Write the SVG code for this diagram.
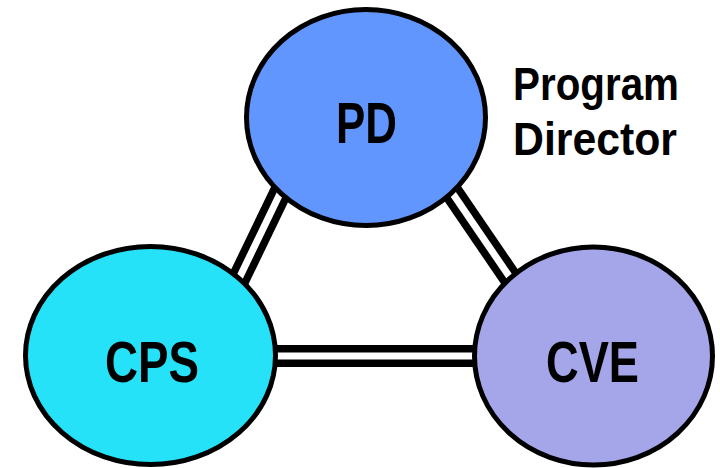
<svg xmlns="http://www.w3.org/2000/svg" width="720" height="468" viewBox="0 0 720 468">
<style>
.node{stroke:#000;stroke-width:5}
.lbl{font-family:"Liberation Sans",Arial,sans-serif;font-weight:bold;font-size:58px;text-anchor:middle;fill:#000}
.side{font-family:"Liberation Sans",Arial,sans-serif;font-weight:bold;font-size:47px;fill:#000}
.outer{stroke:#000;stroke-width:22;fill:none}
.inner{stroke:#fff;stroke-width:7;fill:none}
</style>
<rect width="720" height="468" fill="#fff"/>
<g id="connectors">
<line class="outer" x1="301" y1="150" x2="219" y2="320"/>
<line class="inner" x1="301" y1="150" x2="219" y2="320"/>
<line class="outer" x1="423" y1="150" x2="539" y2="320"/>
<line class="inner" x1="423" y1="150" x2="539" y2="320"/>
<line class="outer" x1="240" y1="356" x2="510" y2="356"/>
<line class="inner" x1="240" y1="356" x2="510" y2="356"/>
</g>
<g id="PD">
<ellipse class="node" cx="366" cy="117.5" rx="119.5" ry="108" fill="#6296FF"/>
<text class="lbl" x="366.5" y="143" textLength="61" lengthAdjust="spacingAndGlyphs">PD</text>
</g>
<g id="CPS">
<ellipse class="node" cx="150.5" cy="355.5" rx="125" ry="109" fill="#25E2F9"/>
<text class="lbl" x="152" y="382" textLength="94" lengthAdjust="spacingAndGlyphs">CPS</text>
</g>
<g id="CVE">
<ellipse class="node" cx="593.5" cy="356" rx="119" ry="109" fill="#A5A5E9"/>
<text class="lbl" x="592.5" y="382" textLength="93" lengthAdjust="spacingAndGlyphs">CVE</text>
</g>
<g id="label">
<text class="side" x="513" y="100" textLength="166" lengthAdjust="spacingAndGlyphs">Program</text>
<text class="side" x="513" y="155" textLength="164" lengthAdjust="spacingAndGlyphs">Director</text>
</g>
</svg>
